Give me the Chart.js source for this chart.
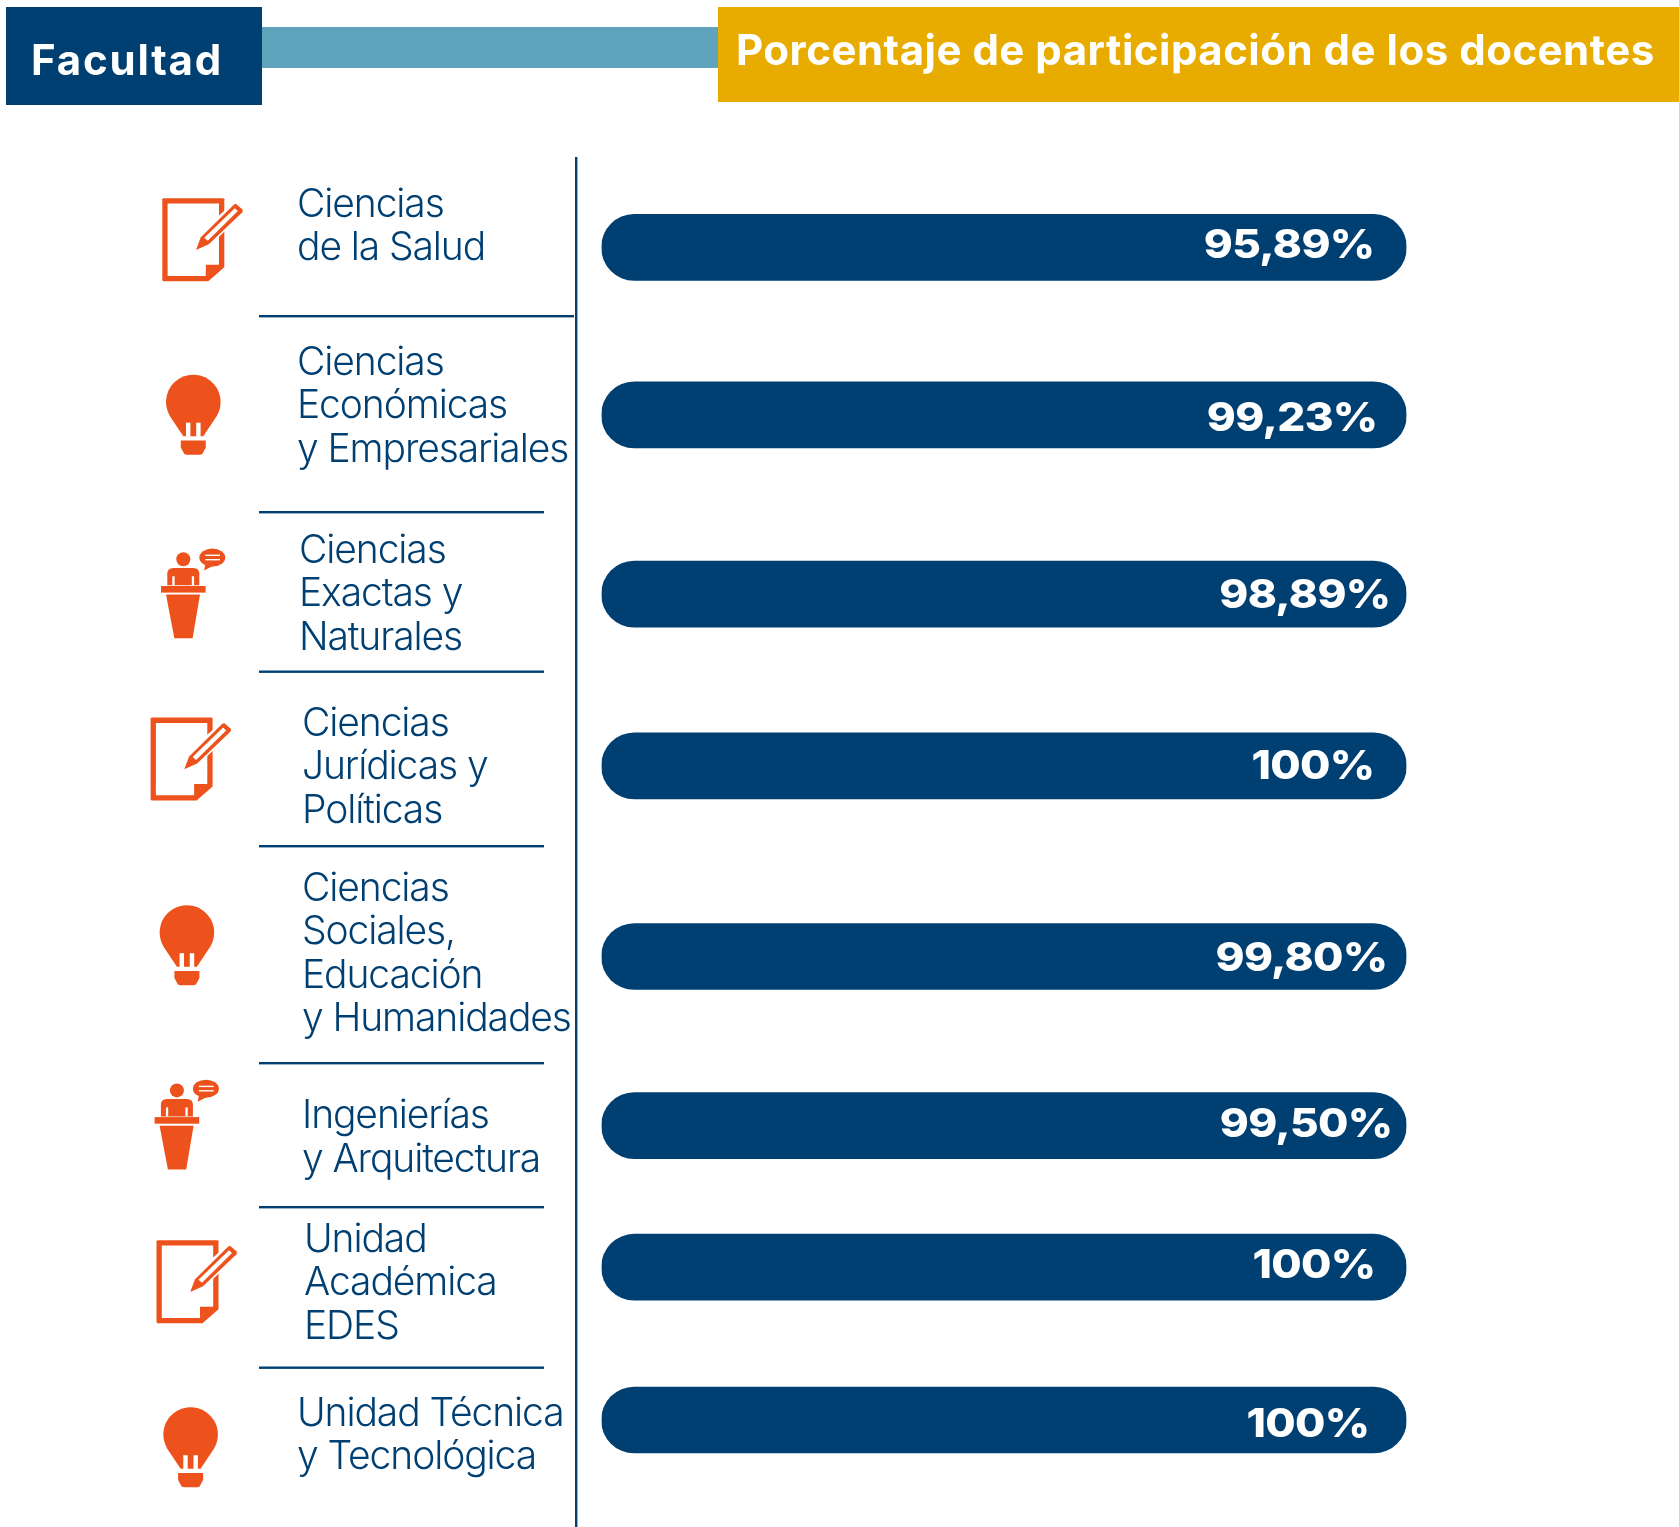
<!DOCTYPE html>
<html>
<head>
<meta charset="utf-8">
<title>Porcentaje de participación de los docentes</title>
<script src="https://cdn.jsdelivr.net/npm/chart.js@4"></script>
<style>
  html, body { margin: 0; padding: 0; background: #fff; }
  canvas { display: block; }
</style>
</head>
<body>
<canvas id="myChart" width="1679" height="1527"></canvas>
<script>
// data
var facultades = [
    ["Ciencias", "de la Salud"],
    ["Ciencias", "Económicas", "y Empresariales"],
    ["Ciencias", "Exactas y", "Naturales"],
    ["Ciencias", "Jurídicas y", "Políticas"],
    ["Ciencias", "Sociales,", "Educación", "y Humanidades"],
    ["Ingenierías", "y Arquitectura"],
    ["Unidad", "Académica", "EDES"],
    ["Unidad Técnica", "y Tecnológica"]
];
var participacion = [95.89, 99.23, 98.89, 100, 99.80, 99.50, 100, 100];
// the bars are all drawn at full length in the original
var largoBarra = [100, 100, 100, 100, 100, 100, 100, 100];
var tituloIzq = "Facultad";
var tituloDer = "Porcentaje de participación de los docentes";

// layout: row position in row units, then the things around each row
var filaPos = [0, 1, 2.07, 3.095, 4.233, 5.243, 6.088, 7];
var iconos = ["nota", "foco", "atril", "nota", "foco", "atril", "nota", "foco"];
var iconoX = [162.3, 193.3, 183.3, 150.6, 186.9, 176.9, 156.5, 190.6];
var iconoY = [198.3, 402, 559.3, 717.6, 932.5, 1090.4, 1240.2, 1434.5];
var textoX = [297, 297, 299, 302, 302, 302, 304, 297];
var textoY = [217, 375, 563, 736, 901, 1128.3, 1252, 1426];
var separaY = [316, 512, 671.5, 846, 1063, 1207, 1367.5];
var separaFin = [574, 544, 544, 544, 544, 544, 544];
var valorGap = [32, 29, 16, 32, 19, 14, 31, 37];
var valorDy = [-3, 2, 0, -1, 1, -3, -3, 3];

var AZUL = "#003F72", NARANJA = "#EE521C", TEAL = "#5FA3BC", ORO = "#E8AC00";

function texto(ctx, str, x, y, font, color, spacing, align) {
    ctx.font = font;
    ctx.fillStyle = color;
    ctx.letterSpacing = spacing + "px";
    ctx.textAlign = align || "left";
    ctx.textBaseline = "alphabetic";
    ctx.fillText(str, x, y);
    ctx.letterSpacing = "0px";
}

function poly(ctx, pts) {
    ctx.beginPath();
    pts.forEach(function(p, i) {
        if (i == 0) ctx.moveTo(p[0], p[1]); else ctx.lineTo(p[0], p[1]);
    });
    ctx.closePath();
    ctx.fill();
}

function nota(ctx) {
    // page outline
    ctx.fillStyle = NARANJA;
    poly(ctx, [[0, 1], [1, 0], [61, 0], [62, 1], [62, 69], [46, 83], [1, 83], [0, 82]]);
    ctx.fillStyle = "#fff";
    poly(ctx, [[5.3, 5.3], [56.7, 5.3], [56.7, 66], [43, 77.7], [5.3, 77.7]]);
    ctx.fillStyle = NARANJA;
    poly(ctx, [[43.5, 66.5], [56.7, 66.5], [43.5, 77.7]]);
    // pencil, white halo first
    ctx.fillStyle = "#fff";
    poly(ctx, [[29, 55], [34, 37], [74, 2], [84, 12], [45, 50]]);
    ctx.fillStyle = NARANJA;
    poly(ctx, [[33.7, 51.7], [38.5, 39], [71.5, 6.5], [73.5, 5.5], [80.5, 11.5], [80, 14], [46.5, 46]]);
    ctx.fillStyle = "#fff";
    poly(ctx, [[42, 39.5], [72.5, 10], [75.5, 12.8], [45.5, 42.5]]);
}

function foco(ctx) {
    ctx.fillStyle = NARANJA;
    ctx.beginPath();
    ctx.arc(0, 0, 27.3, Math.PI * 0.83, Math.PI * 0.17);
    ctx.lineTo(10, 34.3);
    ctx.lineTo(-10, 34.3);
    ctx.closePath();
    ctx.fill();
    ctx.fillStyle = "#fff";
    ctx.fillRect(-7.3, 20.7, 4.4, 14);
    ctx.fillRect(2.9, 20.7, 4.4, 14);
    ctx.fillStyle = NARANJA;
    poly(ctx, [[-12.5, 38.5], [12.5, 38.5], [12.5, 45.5], [9, 52], [7, 52.8], [-7, 52.8], [-9, 52], [-12.5, 45.5]]);
}

function atril(ctx) {
    ctx.fillStyle = NARANJA;
    // head
    ctx.beginPath();
    ctx.arc(0, 0, 7, 0, Math.PI * 2);
    ctx.fill();
    // body
    ctx.beginPath();
    ctx.moveTo(-16, 26);
    ctx.lineTo(-16, 14);
    ctx.quadraticCurveTo(-16, 9, -10, 8.6);
    ctx.lineTo(10, 8.6);
    ctx.quadraticCurveTo(16, 9, 16, 14);
    ctx.lineTo(16, 26);
    ctx.closePath();
    ctx.fill();
    ctx.fillStyle = "#fff";
    ctx.fillRect(-11, 17, 2.3, 9);
    ctx.fillRect(8.5, 17, 2.3, 9);
    ctx.fillStyle = NARANJA;
    // lectern
    ctx.fillRect(-22.3, 26.7, 44.6, 6.6);
    poly(ctx, [[-17.3, 35.3], [16.7, 35.3], [9.3, 79], [-9, 79]]);
    // speech bubble
    ctx.beginPath();
    ctx.ellipse(29, -1.7, 13, 9, 0, 0, Math.PI * 2);
    ctx.fill();
    poly(ctx, [[22, 5], [20.7, 11.3], [30, 6.5]]);
    ctx.fillStyle = "#fff";
    ctx.fillRect(22, -4.7, 14.7, 1.4);
    ctx.fillRect(22, -0.3, 14.7, 1.4);
}

var dibujaIcono = { nota: nota, foco: foco, atril: atril };

var fondo = {
    id: "fondo",
    beforeDatasetsDraw: function(chart) {
        var ctx = chart.ctx;
        ctx.save();
        // header bands
        ctx.fillStyle = TEAL;
        ctx.fillRect(262, 27, 456, 41);
        ctx.fillStyle = AZUL;
        ctx.fillRect(6, 7, 256, 98);
        ctx.fillStyle = ORO;
        ctx.fillRect(718, 7, 961, 95);
        texto(ctx, tituloIzq, 31, 75, "700 42px Inter", "#fff", 1.8);
        texto(ctx, tituloDer, 736, 64.5, "700 42px Inter", "#fff", 0.5);

        // vertical rule and row separators
        ctx.fillStyle = AZUL;
        ctx.fillRect(575, 157, 2.4, 1370);
        separaY.forEach(function(y, i) {
            ctx.fillRect(259, y - 1, separaFin[i] - 259, 2.4);
        });

        facultades.forEach(function(lineas, i) {
            lineas.forEach(function(l, j) {
                texto(ctx, l, textoX[i], textoY[i] + j * 43.4, "300 39px Inter", AZUL, -1.1);
            });
            ctx.save();
            ctx.translate(iconoX[i], iconoY[i]);
            dibujaIcono[iconos[i]](ctx);
            ctx.restore();
        });
        ctx.restore();
    },
    afterDatasetsDraw: function(chart) {
        // percent labels on the bars
        var ctx = chart.ctx;
        var barras = chart.getDatasetMeta(0).data;
        barras.forEach(function(b, i) {
            var v = participacion[i];
            var s = (v == 100 ? "100" : v.toFixed(2).replace(".", ",")) + "%";
            // the original face is wider than anything installed
            ctx.save();
            ctx.translate(b.x - valorGap[i], b.y + valorDy[i] + 14);
            ctx.scale(1.1, 1);
            texto(ctx, s, 0, 0, "800 40px Inter", "#fff", -0.6, "right");
            ctx.restore();
        });
    }
};

var ctx = document.getElementById("myChart");
var chart = new Chart(ctx, {
    type: "bar",
    data: {
        datasets: [{
            label: "Porcentaje de participación",
            data: largoBarra.map(function(v, i) { return { x: v, y: filaPos[i] }; }),
            backgroundColor: AZUL,
            borderWidth: 0,
            borderRadius: 33,
            borderSkipped: false,
            barThickness: 66
        }]
    },
    options: {
        indexAxis: "y",
        responsive: false,
        animation: false,
        layout: { padding: { left: 601.5, right: 272.5, top: 0, bottom: 0 } },
        plugins: { legend: { display: false }, tooltip: { enabled: false } },
        scales: {
            x: { type: "linear", min: 0, max: 100, display: false },
            y: { type: "linear", min: -1.477, max: 7.639, reverse: true, offset: false, display: false }
        }
    },
    plugins: [fondo]
});
</script>
</body>
</html>
